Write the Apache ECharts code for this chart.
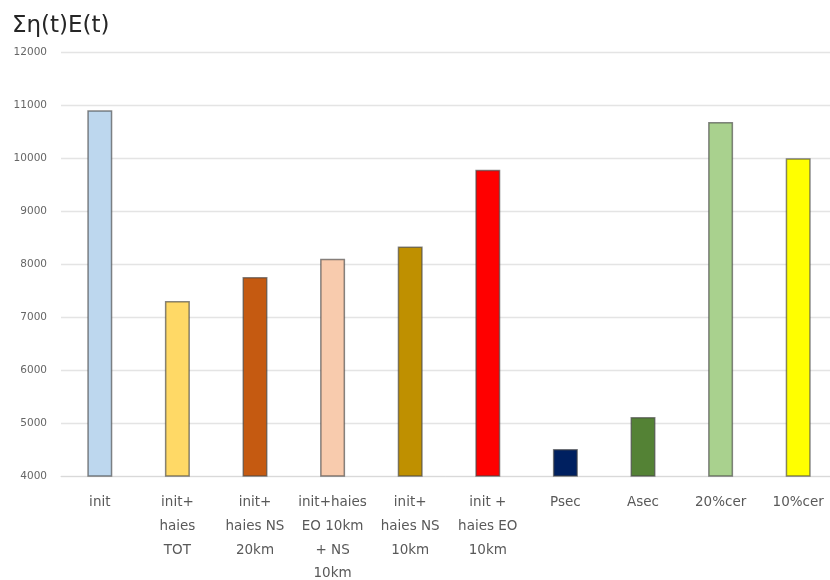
<!DOCTYPE html>
<html><head><meta charset="utf-8">
<script src="https://cdn.jsdelivr.net/npm/echarts@6/dist/echarts.min.js"></script>
<style>html,body{margin:0;padding:0;background:#fff}#c{width:830px;height:580px}</style>
</head><body><div id="c"></div>
<script>
const categories = ["init", "init+\nhaies\nTOT", "init+\nhaies NS\n20km", "init+haies\nEO 10km\n+ NS\n10km", "init+\nhaies NS\n10km", "init +\nhaies EO\n10km", "Psec", "Asec", "20%cer", "10%cer"];
const values = [10900, 7300, 7755, 8100, 8330, 9780, 4510, 5115, 10680, 9995];
const barColors = ["#BDD7EE", "#FFD966", "#C55A11", "#F8CBAD", "#BF9000", "#FF0000", "#002060", "#548235", "#A9D18E", "#FFFF00"];
const yTicks = [4000, 12000, 1000];
const title = "Ση(t)E(t)";

const chart = echarts.init(document.getElementById('c'));
chart.setOption({
  animation: false,
  backgroundColor: '#ffffff',
  title: { text: title, left: 7, top: 10, textStyle: { fontFamily: 'DejaVu Sans', fontSize: 23, fontWeight: 'normal', color: '#262626' } },
  grid: { left: 61, right: -7, top: 52, bottom: 104, outerBoundsMode: 'none', containLabel: false },
  xAxis: {
    type: 'category', data: categories,
    axisLine: { lineStyle: { color: '#d9d9d9' } },
    axisTick: { show: false },
    axisLabel: { interval: 0, margin: 15, lineHeight: 23.7, fontFamily: 'DejaVu Sans', fontSize: 13.5, color: '#595959' }
  },
  yAxis: {
    type: 'value', min: yTicks[0], max: yTicks[1], interval: yTicks[2],
    axisLine: { show: false }, axisTick: { show: false },
    axisLabel: { margin: 14, fontFamily: 'DejaVu Sans', fontSize: 10.5, color: '#666666', formatter: v => String(v) },
    splitLine: { lineStyle: { color: '#e4e4e4', width: 1.3 } }
  },
  series: [{
    type: 'bar', barWidth: 25,
    data: values.map((v, i) => ({ value: v, itemStyle: { color: barColors[i] } })),
    itemStyle: { borderColor: 'rgba(70,70,70,0.65)', borderWidth: 1.5 }
  }]
});
</script></body></html>
